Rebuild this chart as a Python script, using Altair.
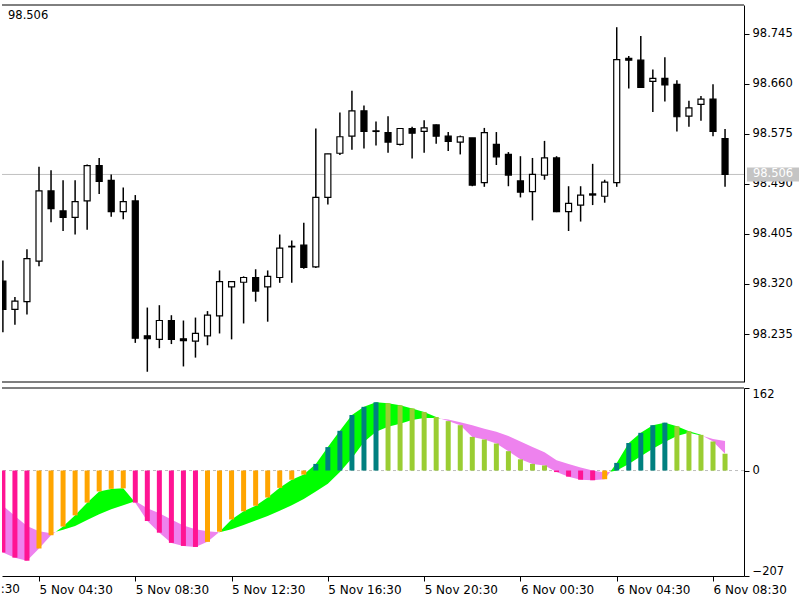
import altair as alt
import pandas as pd

# ---------------- data (M30 candles, index 0..60) ----------------
opens = [98.325, 98.277, 98.290, 98.359, 98.478, 98.444, 98.433, 98.461, 98.521, 98.496,
         98.443, 98.461, 98.232, 98.226, 98.258, 98.227, 98.223, 98.232, 98.266, 98.315,
         98.323, 98.331, 98.315, 98.331, 98.384, 98.386, 98.349, 98.467, 98.542, 98.571,
         98.614, 98.580, 98.577, 98.557, 98.584, 98.579, 98.590, 98.571, 98.561, 98.568,
         98.492, 98.557, 98.540, 98.495, 98.477, 98.505, 98.534, 98.443, 98.454, 98.473,
         98.469, 98.492, 98.703, 98.700, 98.664, 98.669, 98.659, 98.605, 98.625, 98.634,
         98.567]
highs = [98.360, 98.298, 98.379, 98.519, 98.513, 98.496, 98.496, 98.523, 98.534, 98.506,
         98.484, 98.471, 98.280, 98.284, 98.267, 98.258, 98.263, 98.274, 98.343, 98.324,
         98.333, 98.345, 98.343, 98.404, 98.394, 98.424, 98.584, 98.541, 98.611, 98.648,
         98.623, 98.596, 98.605, 98.585, 98.587, 98.598, 98.591, 98.578, 98.572, 98.568,
         98.585, 98.578, 98.544, 98.537, 98.534, 98.563, 98.537, 98.486, 98.486, 98.524,
         98.497, 98.756, 98.707, 98.741, 98.684, 98.705, 98.666, 98.631, 98.639, 98.659,
         98.583]
lows = [98.238, 98.251, 98.268, 98.350, 98.425, 98.410, 98.404, 98.412, 98.473, 98.434,
        98.430, 98.220, 98.171, 98.211, 98.218, 98.180, 98.195, 98.216, 98.236, 98.226,
        98.253, 98.290, 98.256, 98.322, 98.322, 98.346, 98.347, 98.455, 98.539, 98.548,
        98.550, 98.555, 98.543, 98.555, 98.533, 98.543, 98.558, 98.546, 98.540, 98.486,
        98.485, 98.522, 98.486, 98.467, 98.428, 98.497, 98.442, 98.410, 98.426, 98.454,
        98.458, 98.485, 98.652, 98.653, 98.612, 98.630, 98.579, 98.587, 98.597, 98.571,
        98.485]
closes = [98.277, 98.291, 98.363, 98.478, 98.448, 98.433, 98.460, 98.521, 98.494, 98.443,
          98.460, 98.228, 98.227, 98.258, 98.226, 98.224, 98.236, 98.267, 98.324, 98.324,
          98.331, 98.308, 98.333, 98.381, 98.383, 98.348, 98.467, 98.541, 98.570, 98.614,
          98.579, 98.579, 98.561, 98.584, 98.576, 98.585, 98.571, 98.562, 98.570, 98.488,
          98.577, 98.536, 98.505, 98.476, 98.506, 98.534, 98.443, 98.457, 98.471, 98.471,
          98.493, 98.701, 98.700, 98.654, 98.669, 98.658, 98.604, 98.619, 98.634, 98.579,
          98.506]

# indicator: histogram values, histogram colour class, signal line
hist = [-161, -171, -177, -153, -127, -110, -88, -63, -41, -36,
        -35, -63, -99, -122, -142, -148, -150, -140, -120, -96,
        -80, -69, -53, -34, -18, -8, 13, 46, 78, 109,
        125, 134, 132, 128, 122, 115, 105, 97, 89, 66,
        61, 53, 38, 22, 13, 10, -3, -12, -18, -19,
        -17, 15, 54, 74, 89, 94, 87, 77, 70, 57,
        33]
hist_class = ["fall_neg"] * 3 + ["rise_neg"] * 8 + ["fall_neg"] * 6 + ["rise_neg"] * 9 + \
             ["rise_pos"] * 6 + ["fall_pos"] * 14 + ["fall_neg"] * 4 + ["rise_neg"] + \
             ["rise_pos"] * 5 + ["fall_pos"] * 5
signal = [-69, -89, -109, -119, -123, -116, -109, -97, -86, -76,
          -68, -60, -74, -84, -96, -108, -115, -119, -121, -115,
          -107, -98, -89, -79, -68, -56, -41, -26, -3, 24,
          56, 76, 86, 92, 99, 103, 103, 100, 95, 89,
          82, 76, 68, 57, 46, 36, 20, 13, 6, 0,
          -4, 0, 13, 28, 43, 56, 68, 74, 69, 62,
          58]

price_ticks = [98.235, 98.320, 98.405, 98.490, 98.575, 98.660, 98.745]
ind_ticks = [-207, 0, 162]
time_tick_idx = [3, 11, 19, 27, 35, 43, 51, 59]
time_tick_labels = ["5 Nov 04:30", "5 Nov 08:30", "5 Nov 12:30", "5 Nov 16:30",
                    "5 Nov 20:30", "6 Nov 00:30", "6 Nov 04:30", "6 Nov 08:30"]
cut_label_tail = ":30"   # visible tail of "5 Nov 00:30" at the left edge
last_price = closes[-1]

# ---------------- layout ----------------
W = 742
H_MAIN = 377
H_IND = 188
X_DOMAIN = [-0.074, 61.575]
P_DOMAIN = [98.1536, 98.7937]
I_DOMAIN = [-207, 162]
FONT = "DejaVu Sans"
FS_Y = 11.5
FS_X = 12

n = len(opens)
candles = pd.DataFrame({
    "x": list(range(n)), "open": opens, "high": highs, "low": lows, "close": closes,
})
candles["dir"] = ["up" if c >= o else "down" for o, c in zip(opens, closes)]

histdf = pd.DataFrame({"x": list(range(n)), "v": hist, "cls": hist_class})

# band between histogram line and signal line, split where they cross
rows = []
diff = [m - s for m, s in zip(hist, signal)]
seg = 0
cur = diff[0] > 0
rows.append(dict(x=0, m=hist[0], s=signal[0], seg=seg, state="up" if cur else "down"))
for i in range(1, n):
    pos = diff[i] > 0
    if pos != cur:
        t = diff[i - 1] / (diff[i - 1] - diff[i])
        xc = i - 1 + t
        vc = hist[i - 1] + t * (hist[i] - hist[i - 1])
        rows.append(dict(x=xc, m=vc, s=vc, seg=seg, state="up" if cur else "down"))
        seg += 1
        cur = pos
        rows.append(dict(x=xc, m=vc, s=vc, seg=seg, state="up" if cur else "down"))
    rows.append(dict(x=i, m=hist[i], s=signal[i], seg=seg, state="up" if cur else "down"))
band = pd.DataFrame(rows)

xscale = alt.Scale(domain=X_DOMAIN, nice=False, zero=False, padding=0)
pscale = alt.Scale(domain=P_DOMAIN, nice=False, zero=False, padding=0)
iscale = alt.Scale(domain=I_DOMAIN, nice=False, zero=False, padding=0)

axis_common = dict(domainColor="black", tickColor="black", labelColor="black",
                   labelFont=FONT, grid=False, title=None,
                   tickSize=5, domainWidth=1, tickWidth=1)

# ---------------- main price panel ----------------
base = alt.Chart(candles)

price_line = alt.Chart(pd.DataFrame({"p": [last_price]})).mark_rule(
    color="#C0C0C0", strokeWidth=1).encode(
    y=alt.Y("p:Q", scale=pscale,
            axis=alt.Axis(orient="right", values=price_ticks, format=".3f",
                          labelPadding=3, labelFontSize=FS_Y, **axis_common)))

wicks = base.mark_rule(color="black", strokeWidth=1.5, clip=True).encode(
    x=alt.X("x:Q", scale=xscale, axis=None),
    y=alt.Y("low:Q", scale=pscale),
    y2="high:Q")

bodies = base.mark_bar(size=6, stroke="black", strokeWidth=1.2, clip=True).encode(
    x=alt.X("x:Q", scale=xscale, axis=None),
    y=alt.Y("open:Q", scale=pscale),
    y2="close:Q",
    color=alt.Color("dir:N", scale=alt.Scale(domain=["up", "down"], range=["white", "black"]),
                    legend=None))

top_border = alt.Chart(pd.DataFrame({"a": [0]})).mark_rule(color="black", strokeWidth=1).encode(
    y=alt.value(0))
bottom_border = alt.Chart(pd.DataFrame({"a": [0]})).mark_rule(color="black", strokeWidth=1).encode(
    y=alt.value(H_MAIN))

info_text = alt.Chart(pd.DataFrame({"a": [0]})).mark_text(
    align="left", baseline="middle", font=FONT, fontSize=FS_Y, color="black").encode(
    x=alt.value(6), y=alt.value(11), text=alt.value(f"{last_price:.3f}"))

price_box = alt.Chart(pd.DataFrame({"p": [last_price]})).mark_rect(
    color="#C4C4C4", yOffset=-7, y2Offset=7).encode(
    x=alt.value(745), x2=alt.value(797),
    y=alt.Y("p:Q", scale=pscale), y2="p:Q")
price_box_text = alt.Chart(pd.DataFrame({"p": [last_price]})).mark_text(
    color="white", align="center", baseline="middle", font=FONT, fontSize=FS_Y).encode(
    x=alt.value(771), y=alt.Y("p:Q", scale=pscale), text=alt.Text("p:Q", format=".3f"))

main = alt.layer(price_line, wicks, bodies, top_border, bottom_border, info_text,
                 price_box, price_box_text).properties(width=W, height=H_MAIN)

# ---------------- indicator panel ----------------
zero_line = alt.Chart(pd.DataFrame({"z": [0]})).mark_rule(
    color="#BDBDBD", strokeDash=[3, 3], strokeWidth=1).encode(
    y=alt.Y("z:Q", scale=iscale,
            axis=alt.Axis(orient="right", values=ind_ticks, labelFlush=True,
                          labelPadding=3, labelFontSize=FS_Y, **axis_common)))

band_area = alt.Chart(band).mark_area(clip=True, opacity=1).encode(
    x=alt.X("x:Q", scale=xscale,
            axis=alt.Axis(values=time_tick_idx,
                          labelExpr="[" + ",".join(f"'{s}'" for s in time_tick_labels) +
                                    "][round((datum.value-3)/8)]",
                          labelAlign="left", labelPadding=3, labelFlush=False,
                          labelOverlap=False, labelFontSize=FS_X, **axis_common)),
    y=alt.Y("m:Q", scale=iscale),
    y2="s:Q",
    detail="seg:N",
    color=alt.Color("state:N", scale=alt.Scale(domain=["up", "down"],
                                               range=["#00FF00", "#EE82EE"]), legend=None))

bars = alt.Chart(histdf).mark_bar(size=5, clip=True).encode(
    x=alt.X("x:Q", scale=xscale),
    y=alt.Y("v:Q", scale=iscale),
    color=alt.Color("cls:N", scale=alt.Scale(
        domain=["fall_neg", "rise_neg", "rise_pos", "fall_pos"],
        range=["#FF1493", "#FFA500", "#008080", "#9ACD32"]), legend=None))

ind_top = alt.Chart(pd.DataFrame({"a": [0]})).mark_rule(color="black", strokeWidth=1).encode(
    y=alt.value(0))

cut_label = alt.Chart(pd.DataFrame({"a": [0]})).mark_text(
    align="right", baseline="top", font=FONT, fontSize=FS_X, color="black").encode(
    x=alt.value(18), y=alt.value(H_IND + 8), text=alt.value(cut_label_tail))

indicator = alt.layer(zero_line, band_area, bars, ind_top, cut_label).resolve_scale(
    color="independent").properties(width=W, height=H_IND)

chart = alt.vconcat(main, indicator, spacing=4).properties(
    padding={"left": 0, "top": 4, "right": 0, "bottom": 0},
    background="white",
).configure_view(stroke=None)

chart.save("out.html", embed_options={"renderer": "svg", "actions": False})
